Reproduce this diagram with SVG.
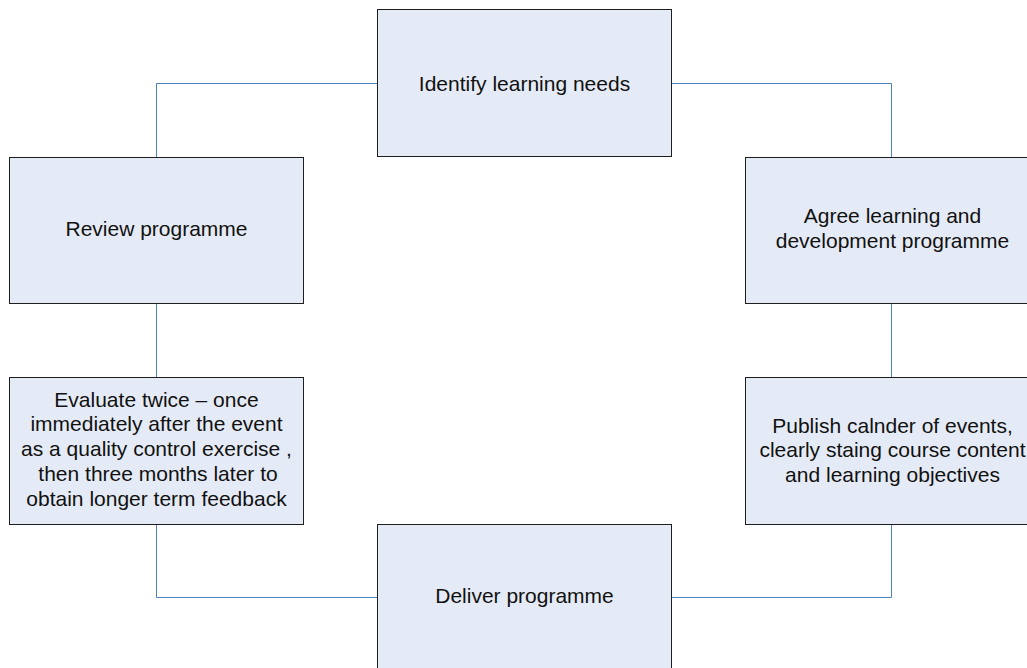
<svg xmlns="http://www.w3.org/2000/svg" width="1027" height="668" viewBox="0 0 1027 668">
<style>
.box{fill:#e5ebf6;stroke:#1e1e1e;stroke-width:1}
.lbl{font-family:"Liberation Sans",Arial,sans-serif;font-size:21px;fill:#111;text-anchor:middle}
.con{fill:none;stroke:#4f81bd;stroke-width:1}
</style>
<rect width="1027" height="668" fill="#ffffff"/>
<g id="connectors">
<path class="con" d="M377 83.5 H156.5 V157"/>
<path class="con" d="M671 83.5 H891.5 V157"/>
<path class="con" d="M156.5 303 V377"/>
<path class="con" d="M891.5 303 V377"/>
<path class="con" d="M156.5 524 V597.5 H377"/>
<path class="con" d="M891.5 524 V597.5 H671"/>
</g>
<g id="identify">
<rect class="box" x="377.5" y="9.5" width="294" height="147"/>
<text class="lbl" x="524.5" y="91">Identify learning needs</text>
</g>
<g id="review">
<rect class="box" x="9.5" y="157.5" width="294" height="146"/>
<text class="lbl" x="156.5" y="236">Review programme</text>
</g>
<g id="agree">
<rect class="box" x="745.5" y="157.5" width="294" height="146"/>
<text class="lbl" x="892.5" y="223">Agree learning and</text>
<text class="lbl" x="892.5" y="248">development programme</text>
</g>
<g id="evaluate">
<rect class="box" x="9.5" y="377.5" width="294" height="147"/>
<text class="lbl" x="156.5" y="406.5">Evaluate twice – once</text>
<text class="lbl" x="156.5" y="431.3">immediately after the event</text>
<text class="lbl" x="156.5" y="456">as a quality control exercise ,</text>
<text class="lbl" x="158" y="480.8">then three months later to</text>
<text class="lbl" x="156.5" y="505.5">obtain longer term feedback</text>
</g>
<g id="publish">
<rect class="box" x="745.5" y="377.5" width="294" height="147"/>
<text class="lbl" x="892.5" y="432.5">Publish calnder of events,</text>
<text class="lbl" x="892.5" y="457">clearly staing course content</text>
<text class="lbl" x="892.5" y="481.5">and learning objectives</text>
</g>
<g id="deliver">
<rect class="box" x="377.5" y="524.5" width="294" height="147"/>
<text class="lbl" x="524.5" y="603">Deliver programme</text>
</g>
</svg>
